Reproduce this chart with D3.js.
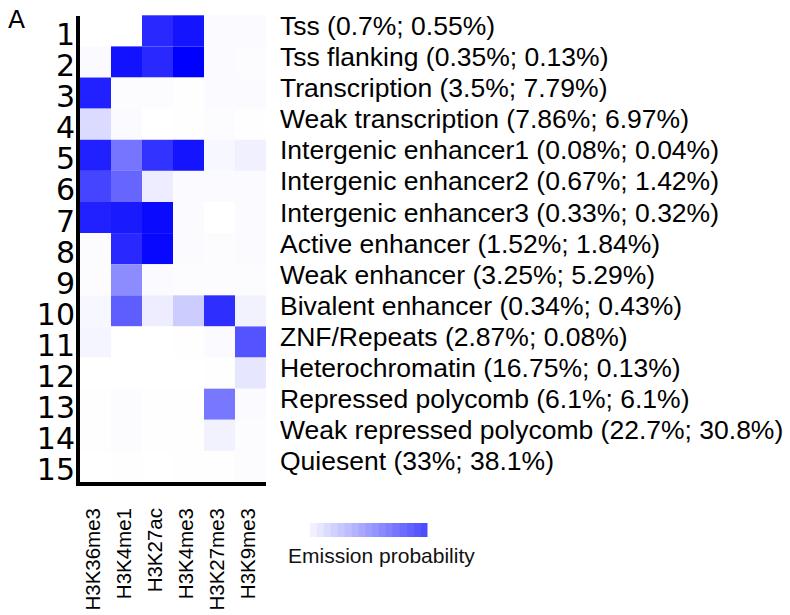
<!DOCTYPE html>
<html>
<head>
<meta charset="utf-8">
<script src="https://cdn.jsdelivr.net/npm/d3@7"></script>
<style>
  body { margin: 0; background: #fff; }
  svg { display: block; }
</style>
</head>
<body>
<div id="chart"></div>
<script>
// states (rows) and marks (columns)
var states = ["1","2","3","4","5","6","7","8","9","10","11","12","13","14","15"];
var marks = ["H3K36me3","H3K4me1","H3K27ac","H3K4me3","H3K27me3","H3K9me3"];
var stateLabels = [
  "Tss (0.7%; 0.55%)",
  "Tss flanking (0.35%; 0.13%)",
  "Transcription (3.5%; 7.79%)",
  "Weak transcription (7.86%; 6.97%)",
  "Intergenic enhancer1 (0.08%; 0.04%)",
  "Intergenic enhancer2 (0.67%; 1.42%)",
  "Intergenic enhancer3 (0.33%; 0.32%)",
  "Active enhancer (1.52%; 1.84%)",
  "Weak enhancer (3.25%; 5.29%)",
  "Bivalent enhancer (0.34%; 0.43%)",
  "ZNF/Repeats (2.87%; 0.08%)",
  "Heterochromatin (16.75%; 0.13%)",
  "Repressed polycomb (6.1%; 6.1%)",
  "Weak repressed polycomb (22.7%; 30.8%)",
  "Quiesent (33%; 38.1%)"
];

// emission probabilities, one row per state, columns in marks order
var emissions = [
  [0.00, 0.00, 0.84, 0.92, 0.015, 0.015],
  [0.015, 0.93, 0.84, 1.00, 0.02, 0.01],
  [0.87, 0.01, 0.01, 0.005, 0.02, 0.02],
  [0.14, 0.02, 0.00, 0.005, 0.01, 0.005],
  [0.87, 0.54, 0.80, 0.92, 0.03, 0.06],
  [0.73, 0.60, 0.07, 0.015, 0.015, 0.015],
  [0.87, 0.90, 0.96, 0.02, 0.00, 0.02],
  [0.01, 0.84, 0.97, 0.02, 0.01, 0.02],
  [0.01, 0.45, 0.02, 0.01, 0.01, 0.01],
  [0.03, 0.63, 0.07, 0.20, 0.82, 0.05],
  [0.04, 0.00, 0.00, 0.005, 0.015, 0.67],
  [0.00, 0.00, 0.00, 0.00, 0.005, 0.10],
  [0.005, 0.01, 0.005, 0.005, 0.53, 0.02],
  [0.005, 0.01, 0.005, 0.005, 0.05, 0.01],
  [0.00, 0.005, 0.00, 0.005, 0.005, 0.01]
];

// legend steps
var legendValues = [0.06,0.10,0.14,0.18,0.22,0.26,0.30,0.34,0.38,0.42,0.46,0.50,0.54,0.58,0.62,0.66,0.70];

var width = 790, height = 615;
var hm = {left: 80, top: 15.3, right: 266, bottom: 482};

var x = d3.scaleBand().domain(marks).range([hm.left, hm.right]),
    y = d3.scaleBand().domain(states).range([hm.top, hm.bottom]),
    color = d3.scaleLinear().domain([0, 1]).range(["#ffffff", "#0000ff"]).interpolate(d3.interpolateRgb);

var svg = d3.select("#chart").append("svg")
    .attr("width", width)
    .attr("height", height);

// panel letter
svg.append("text")
    .attr("x", 8).attr("y", 27.5)
    .style("font-family", "DejaVu Sans")
    .style("font-size", "25px")
    .text("A");

// cells
var cells = [];
emissions.forEach(function(row, i) {
  row.forEach(function(v, j) { cells.push({state: states[i], mark: marks[j], v: v}); });
});

svg.append("g").selectAll("rect")
    .data(cells)
    .enter()
    .append("rect")
    .attr("x", d => x(d.mark))
    .attr("y", d => y(d.state))
    .attr("width", x.bandwidth())
    .attr("height", y.bandwidth())
    .attr("fill", d => color(d.v));

// axes lines
svg.append("line")
    .attr("x1", 78).attr("x2", 78)
    .attr("y1", 16).attr("y2", 486)
    .attr("stroke", "#000").attr("stroke-width", 4);
svg.append("line")
    .attr("x1", 76).attr("x2", hm.right)
    .attr("y1", 484).attr("y2", 484)
    .attr("stroke", "#000").attr("stroke-width", 4);

// state numbers
svg.append("g").selectAll("text")
    .data(states)
    .enter()
    .append("text")
    .attr("x", 75)
    .attr("y", d => y(d) + y.bandwidth() / 2 + 14)
    .attr("text-anchor", "end")
    .style("font-family", "DejaVu Sans")
    .style("font-size", "30px")
    .text(d => d);

// state descriptions
svg.append("g").selectAll("text")
    .data(stateLabels)
    .enter()
    .append("text")
    .attr("x", 280)
    .attr("y", (d, i) => y(states[i]) + y.bandwidth() / 2 + 4)
    .style("font-family", "Liberation Sans, Arial, sans-serif")
    .style("font-size", "26.5px")
    .text(d => d);

// mark labels
svg.append("g").selectAll("text")
    .data(marks)
    .enter()
    .append("text")
    .attr("transform", d => "translate(" + (x(d) + x.bandwidth() / 2 + 4) + ",508) rotate(-90)")
    .attr("text-anchor", "end")
    .style("font-family", "Liberation Sans, Arial, sans-serif")
    .style("font-size", "20.5px")
    .text(d => d);

// legend
var lx = d3.scaleBand().domain(legendValues).range([310, 427]);
svg.append("g").selectAll("rect")
    .data(legendValues)
    .enter()
    .append("rect")
    .attr("x", d => lx(d))
    .attr("y", 523)
    .attr("width", lx.bandwidth() + 0.5)
    .attr("height", 14)
    .attr("fill", d => color(d));

svg.append("text")
    .attr("x", 288).attr("y", 563)
    .style("font-family", "Liberation Sans, Arial, sans-serif")
    .style("font-size", "21px")
    .style("fill", "#111")
    .text("Emission probability");
</script>
</body>
</html>
